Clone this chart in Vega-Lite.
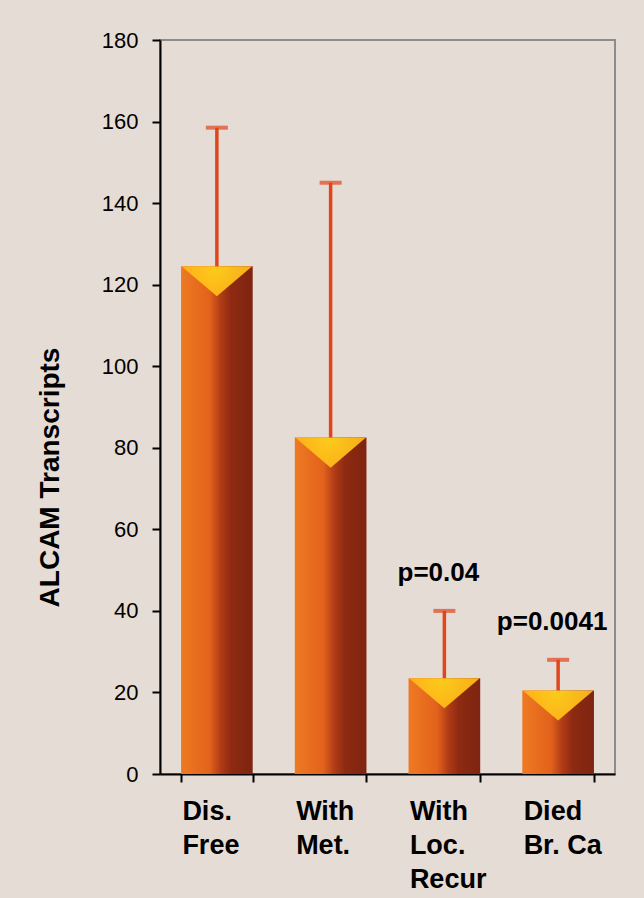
{
  "$schema": "https://vega.github.io/schema/vega-lite/v6.json",
  "autosize": {"type": "none"},
  "padding": {"left": 160, "top": 40, "right": 29, "bottom": 124},
  "width": 455,
  "height": 734,
  "background": "#e5dcd5",
  "config": {
    "font": "Liberation Sans",
    "view": {"stroke": "#8c8c8c", "strokeWidth": 2}
  },
  "data": {
    "values": [
      {"group": "Dis.|Free", "mean": 124.5, "upper": 158.5, "p": ""},
      {"group": "With|Met.", "mean": 82.5, "upper": 145, "p": ""},
      {"group": "With|Loc.|Recur", "mean": 23.5, "upper": 40, "p": "p=0.04"},
      {"group": "Died|Br. Ca", "mean": 20.5, "upper": 28, "p": "p=0.0041"}
    ]
  },
  "encoding": {
    "x": {
      "field": "group",
      "type": "nominal",
      "sort": null,
      "scale": {"paddingInner": 0.37, "paddingOuter": 0.185},
      "axis": {
        "title": null,
        "labelAngle": 0,
        "labelExpr": "split(datum.label, '|')",
        "labelFont": "Liberation Sans",
        "labelFontWeight": "bold",
        "labelFontSize": 27,
        "labelColor": "#000000",
        "labelLineHeight": 34,
        "labelAlign": "left",
        "labelBaseline": "top",
        "labelOffset": -35,
        "labelPadding": 16,
        "tickBand": "extent",
        "tickSize": 8,
        "tickWidth": 2,
        "tickColor": "#000000",
        "domainColor": "#000000",
        "domainWidth": 2
      }
    }
  },
  "layer": [
    {
      "mark": {
        "type": "bar",
        "fill": {
          "gradient": "linear",
          "x1": 0, "x2": 1, "y1": 0, "y2": 0,
          "stops": [
            {"offset": 0, "color": "#ee7a22"},
            {"offset": 0.4, "color": "#e2621c"},
            {"offset": 0.55, "color": "#b23c16"},
            {"offset": 0.7, "color": "#8e2a12"},
            {"offset": 1, "color": "#7e2410"}
          ]
        }
      },
      "encoding": {
        "y": {
          "field": "mean",
          "type": "quantitative",
          "scale": {"domain": [0, 180], "nice": false},
          "axis": {
            "title": "ALCAM Transcripts",
            "titleFont": "Liberation Sans",
            "titleFontWeight": "bold",
            "titleFontSize": 28,
            "titleColor": "#000000",
            "titleX": -96,
            "titleY": 437,
            "titleAngle": -90,
            "titleBaseline": "bottom",
            "values": [0, 20, 40, 60, 80, 100, 120, 140, 160, 180],
            "labelFont": "Liberation Sans",
            "labelFontSize": 22,
            "labelColor": "#000000",
            "labelPadding": 14,
            "tickSize": 8,
            "tickWidth": 2,
            "tickColor": "#000000",
            "domainColor": "#000000",
            "domainWidth": 2,
            "grid": false
          }
        }
      }
    },
    {
      "mark": {
        "type": "point",
        "shape": "M-1,0L1,0L0,0.85Z",
        "filled": true,
        "opacity": 0.95,
        "fill": {
          "gradient": "radial",
          "x1": 0.5, "y1": 0.3, "x2": 0.5, "y2": 0.3, "r1": 0, "r2": 0.7,
          "stops": [
            {"offset": 0, "color": "#ffd21a"},
            {"offset": 0.6, "color": "#ffb81a"},
            {"offset": 1, "color": "#f59a1c"}
          ]
        },
        "size": 5000,
        "strokeWidth": 0
      },
      "encoding": {
        "y": {"field": "mean", "type": "quantitative"}
      }
    },
    {
      "mark": {"type": "rule", "color": "#e0451c", "strokeWidth": 3.5},
      "encoding": {
        "y": {"field": "mean", "type": "quantitative"},
        "y2": {"field": "upper"}
      }
    },
    {
      "mark": {"type": "tick", "color": "#e0451c", "thickness": 4, "size": 22},
      "encoding": {
        "y": {"field": "upper", "type": "quantitative"}
      }
    },
    {
      "mark": {
        "type": "text",
        "font": "Liberation Sans",
        "fontWeight": "bold",
        "fontSize": 26,
        "color": "#000000",
        "baseline": "alphabetic",
        "dy": -30,
        "dx": -6
      },
      "encoding": {
        "y": {"field": "upper", "type": "quantitative"},
        "text": {"field": "p"}
      }
    }
  ]
}
